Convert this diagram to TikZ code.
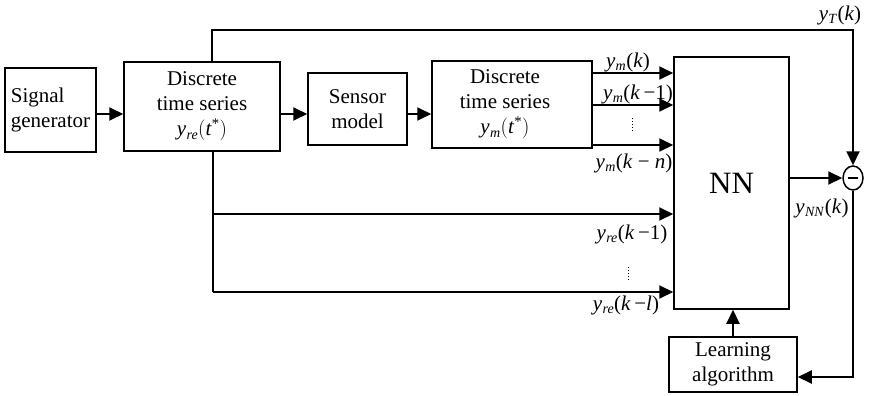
\documentclass[tikz,border=0pt]{standalone}
\usepackage{fontspec}
\setmainfont{Liberation Serif}
\usetikzlibrary{arrows.meta,shapes.geometric}
\newcommand\vy[2]{\textit{y}\kern0.3pt\raisebox{-0.35ex}{\fontsize{14}{14}\selectfont\textit{#1}}\kern0.5pt#2}
\begin{document}
\begin{tikzpicture}[x=1pt,y=-1pt,
  box/.style={draw,line width=1.5pt,inner sep=0pt,align=center,font=\fontsize{21}{25}\selectfont},
  wire/.style={line width=2pt},
  arr/.style={wire,-{Triangle[length=14pt,width=13pt]}},
  lab/.style={font=\fontsize{21}{23}\selectfont,inner sep=0pt}]
\useasboundingbox (0,0) rectangle (870,396);
% blocks
\node[box,minimum width=91pt,minimum height=84pt,align=left] (sig) at (50.5,110) {Signal\\generator};
\node[box,minimum width=156pt,minimum height=89pt] (ts1) at (202,106.5) {Discrete\\time series\\\vy{re}{\bigg(\textit{t}\textsuperscript{*}\bigg)}};
\node[box,minimum width=99pt,minimum height=72pt] (sen) at (357.5,109) {Sensor\\model};
\node[box,minimum width=160pt,minimum height=87pt] (ts2) at (512,104.5) {\hspace*{-14pt}Discrete\\\hspace*{-14pt}time series\\\hspace*{-14pt}\vy{m}{\bigg(\textit{t}\textsuperscript{*}\bigg)}};
\node[box,minimum width=115pt,minimum height=252pt,font=\fontsize{31}{31}\selectfont] (nn) at (731.5,183) {NN};
\node[draw,ellipse,line width=1.5pt,minimum width=20pt,minimum height=24pt,inner sep=0pt] (sum) at (853,178) {};
\draw[line width=2pt] ([xshift=-5pt]sum.center) -- ([xshift=5pt]sum.center);
\node[box,minimum width=128pt,minimum height=55pt] (learn) at (733,364.5) {Learning\\algorithm};
% helper coordinates
\coordinate (r1) at (0,114);
\coordinate (m0) at (0,73);
\coordinate (m1) at (0,105);
\coordinate (mn) at (0,145);
\coordinate (top) at (212,30);
\coordinate (topr) at (853,30);
\coordinate (bt) at (213,151);
\coordinate (b1) at (213,214);
\coordinate (b2) at (213,292);
\coordinate (lr) at (853,377);
\coordinate (out) at (0,178);
% connectors
\draw[arr] (sig.east |- r1) -- (ts1.west |- r1);
\draw[arr] (ts1.east |- r1) -- (sen.west |- r1);
\draw[arr] (sen.east |- r1) -- (ts2.west |- r1);
\draw[arr] (ts2.east |- m0) -- (nn.west |- m0);
\draw[arr] (ts2.east |- m1) -- (nn.west |- m1);
\draw[arr] (ts2.east |- mn) -- (nn.west |- mn);
\draw[arr] (ts1.north -| top) -- (top) -- (topr) -- (sum.north);
\draw[wire] (bt) -- (b2);
\draw[arr] (b1) -- (nn.west |- b1);
\draw[arr] (b2) -- (nn.west |- b2);
\draw[arr] (nn.east |- out) -- (sum.west);
\draw[arr] (sum.south) -- (lr) -- (learn.east |- lr);
\draw[arr] (learn.north) -- (nn.south -| learn.north);
% dots
\draw[line width=1pt,dotted] (632,118) -- (632,133);
\draw[line width=1pt,dotted] (628,267) -- (628,282);
% labels
\node[lab] (lt) at (840,15) {\vy{T}{(\textit{k})}};
\node[lab] (l0) at (628,62) {\vy{m}{(\textit{k})}};
\node[lab] (l1) at (638,94) {\vy{m}{(\textit{k}\,−1)}};
\node[lab] (ln) at (634,163) {\vy{m}{(\textit{k} − \textit{n})}};
\node[lab] (lnn) at (822,208) {\vy{NN}{(\textit{k})}};
\node[lab] (lr1) at (632,234) {\vy{re}{(\textit{k}\,−1)}};
\node[lab] (lrl) at (626,305) {\vy{re}{(\textit{k}\,−\textit{l})}};
\end{tikzpicture}
\end{document}
